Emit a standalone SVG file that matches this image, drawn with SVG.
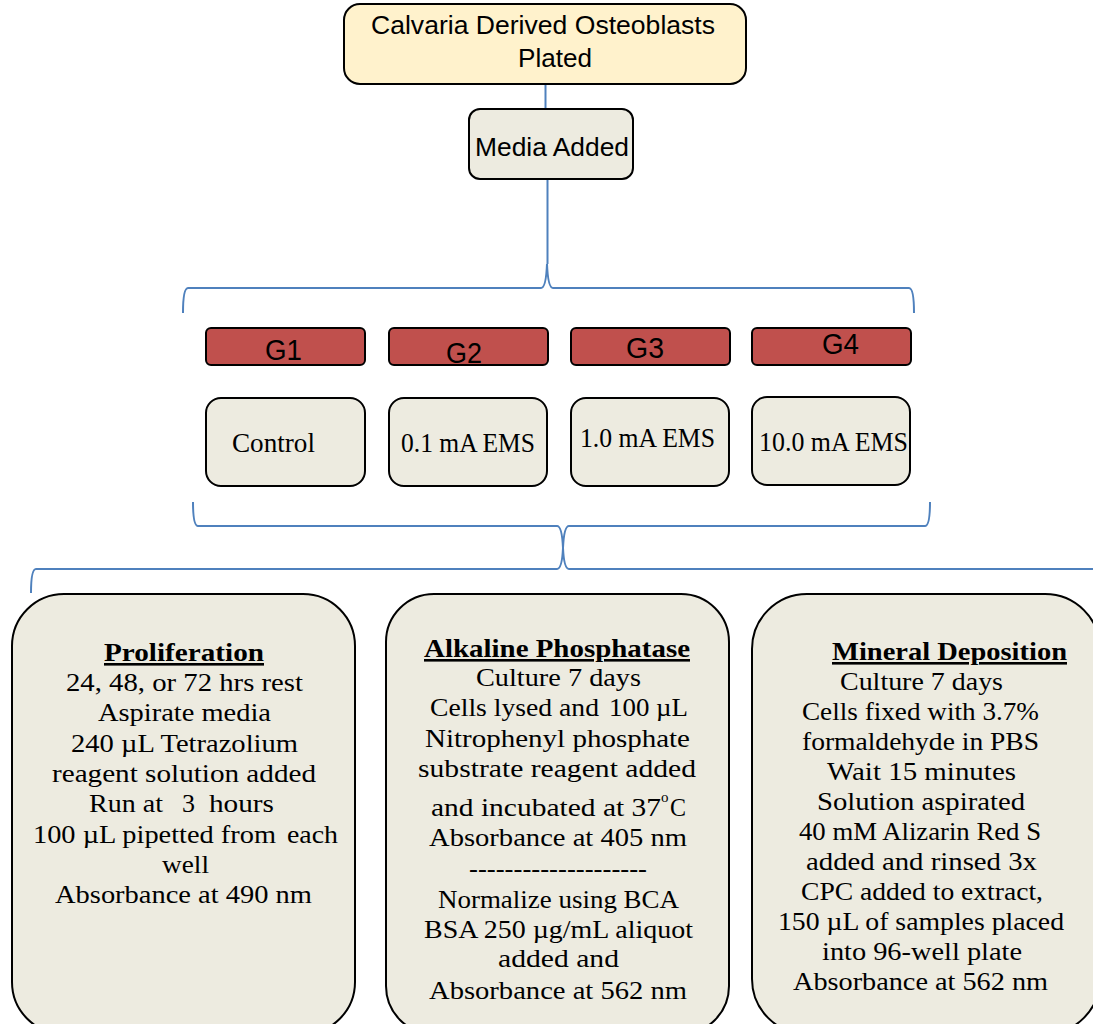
<svg xmlns="http://www.w3.org/2000/svg" width="1093" height="1024" viewBox="0 0 1093 1024">
<style>
.sans{font-family:"Liberation Sans",Arial,sans-serif;fill:#000}
.serif{font-family:"Liberation Serif","Times New Roman",serif;fill:#000}
.body{font-size:26px}
.head{font-size:26px;font-weight:bold;text-decoration:underline}
.beige{fill:#EDEBE0;stroke:#000;stroke-width:2}
.red{fill:#C0504D;stroke:#000;stroke-width:2}
.conn{fill:none;stroke:#4F81BD;stroke-width:2}
</style>
<rect width="1093" height="1024" fill="#fff"/>
<g id="connectors">
<line class="conn" x1="545.5" y1="84" x2="545.5" y2="110"/>
<line class="conn" x1="547.5" y1="179" x2="547.5" y2="264"/>
<path class="conn" d="M183,313 Q183,288 188,288 L541,288 Q546,288 547,264 Q548,288 553,288 L909,288 Q914,288 914,313"/>
<path class="conn" d="M193,502 Q193,526 198,526 L557,526 Q562,526 563,548 Q564,526 569,526 L925,526 Q930,526 930,502"/>
<path class="conn" d="M31,593 Q31,569 36,569 L557,569 Q562,569 563,548 Q564,569 569,569 L1095,569"/>
</g>
<g id="plated">
<rect x="344" y="4" width="402" height="80" rx="16" fill="#FFF2CC" stroke="#000" stroke-width="2"/>
<text class="sans" font-size="26.5" x="371" y="34" textLength="344" lengthAdjust="spacingAndGlyphs">Calvaria Derived Osteoblasts</text>
<text class="sans" font-size="26.5" x="518" y="67" textLength="74" lengthAdjust="spacingAndGlyphs">Plated</text>
</g>
<g id="media">
<rect class="beige" x="469" y="109" width="164" height="70" rx="11"/>
<text class="sans" font-size="26" x="475" y="156" textLength="154" lengthAdjust="spacingAndGlyphs">Media Added</text>
</g>
<g id="g1">
<rect class="red" x="206" y="328" width="159" height="37" rx="5"/>
<text class="sans" font-size="29" x="265" y="360" textLength="37" lengthAdjust="spacingAndGlyphs">G1</text>
</g>
<g id="g2">
<rect class="red" x="389" y="328" width="159" height="37" rx="5"/>
<text class="sans" font-size="29" x="446" y="363" textLength="36" lengthAdjust="spacingAndGlyphs">G2</text>
</g>
<g id="g3">
<rect class="red" x="571" y="328" width="159" height="37" rx="5"/>
<text class="sans" font-size="29" x="626" y="358" textLength="38" lengthAdjust="spacingAndGlyphs">G3</text>
</g>
<g id="g4">
<rect class="red" x="752" y="328" width="159" height="37" rx="5"/>
<text class="sans" font-size="29" x="822" y="354" textLength="37" lengthAdjust="spacingAndGlyphs">G4</text>
</g>
<g id="control">
<rect class="beige" x="206" y="398" width="159" height="88" rx="15"/>
<text class="serif" font-size="28" x="232" y="452" textLength="83" lengthAdjust="spacingAndGlyphs">Control</text>
</g>
<g id="ems01">
<rect class="beige" x="389" y="398" width="158" height="88" rx="15"/>
<text class="serif" font-size="28" x="401" y="452" textLength="134" lengthAdjust="spacingAndGlyphs">0.1 mA EMS</text>
</g>
<g id="ems10">
<rect class="beige" x="571" y="398" width="158" height="88" rx="15"/>
<text class="serif" font-size="28" x="580" y="447" textLength="135" lengthAdjust="spacingAndGlyphs">1.0 mA EMS</text>
</g>
<g id="ems100">
<rect class="beige" x="752" y="397" width="158" height="88" rx="15"/>
<text class="serif" font-size="28" x="759" y="451" textLength="149" lengthAdjust="spacingAndGlyphs">10.0 mA EMS</text>
</g>
<g id="proliferation">
<rect class="beige" x="12" y="594" width="343" height="440" rx="52"/>
<text class="serif head" x="104" y="661" textLength="160" lengthAdjust="spacingAndGlyphs">Proliferation</text>
<text class="serif body" x="66" y="691" textLength="237" lengthAdjust="spacingAndGlyphs">24, 48, or 72 hrs rest</text>
<text class="serif body" x="98" y="721" textLength="173" lengthAdjust="spacingAndGlyphs">Aspirate media</text>
<text class="serif body" x="71" y="752" textLength="227" lengthAdjust="spacingAndGlyphs">240 µL Tetrazolium</text>
<text class="serif body" x="52" y="782" textLength="264" lengthAdjust="spacingAndGlyphs">reagent solution added</text>
<text class="serif body" x="89" y="812" textLength="74" lengthAdjust="spacingAndGlyphs">Run at</text>
<text class="serif body" x="182" y="812">3</text>
<text class="serif body" x="209" y="812" textLength="65" lengthAdjust="spacingAndGlyphs">hours</text>
<text class="serif body" x="33" y="843" textLength="243" lengthAdjust="spacingAndGlyphs">100 µL pipetted from</text>
<text class="serif body" x="287" y="843" textLength="51" lengthAdjust="spacingAndGlyphs">each</text>
<text class="serif body" x="162" y="873" textLength="47" lengthAdjust="spacingAndGlyphs">well</text>
<text class="serif body" x="55" y="903" textLength="257" lengthAdjust="spacingAndGlyphs">Absorbance at 490 nm</text>
</g>
<g id="alkaline">
<rect class="beige" x="386" y="594" width="343" height="440" rx="48"/>
<text class="serif head" x="424" y="657" textLength="266" lengthAdjust="spacingAndGlyphs">Alkaline Phosphatase</text>
<text class="serif body" x="476" y="686" textLength="165" lengthAdjust="spacingAndGlyphs">Culture 7 days</text>
<text class="serif body" x="430" y="716" textLength="169" lengthAdjust="spacingAndGlyphs">Cells lysed and</text>
<text class="serif body" x="609" y="716" textLength="79" lengthAdjust="spacingAndGlyphs">100 µL</text>
<text class="serif body" x="425" y="747" textLength="265" lengthAdjust="spacingAndGlyphs">Nitrophenyl phosphate</text>
<text class="serif body" x="418" y="777" textLength="278" lengthAdjust="spacingAndGlyphs">substrate reagent added</text>
<text class="serif body" x="431" y="816" textLength="230" lengthAdjust="spacingAndGlyphs">and incubated at 37</text>
<text class="serif" font-size="15" x="661" y="802">o</text>
<text class="serif body" x="670" y="816" textLength="16" lengthAdjust="spacingAndGlyphs">C</text>
<text class="serif body" x="429" y="846" textLength="258" lengthAdjust="spacingAndGlyphs">Absorbance at 405 nm</text>
<text class="serif body" x="469" y="877" textLength="178" lengthAdjust="spacingAndGlyphs">--------------------</text>
<text class="serif body" x="438" y="908" textLength="241" lengthAdjust="spacingAndGlyphs">Normalize using BCA</text>
<text class="serif body" x="424" y="938" textLength="269" lengthAdjust="spacingAndGlyphs">BSA 250 µg/mL aliquot</text>
<text class="serif body" x="498" y="967" textLength="121" lengthAdjust="spacingAndGlyphs">added and</text>
<text class="serif body" x="429" y="999" textLength="258" lengthAdjust="spacingAndGlyphs">Absorbance at 562 nm</text>
</g>
<g id="mineral">
<rect class="beige" x="752" y="594" width="348" height="440" rx="55"/>
<text class="serif head" x="832" y="660" textLength="235" lengthAdjust="spacingAndGlyphs">Mineral Deposition</text>
<text class="serif body" x="840" y="690" textLength="163" lengthAdjust="spacingAndGlyphs">Culture 7 days</text>
<text class="serif body" x="802" y="720" textLength="237" lengthAdjust="spacingAndGlyphs">Cells fixed with 3.7%</text>
<text class="serif body" x="802" y="750" textLength="237" lengthAdjust="spacingAndGlyphs">formaldehyde in PBS</text>
<text class="serif body" x="827" y="780" textLength="189" lengthAdjust="spacingAndGlyphs">Wait 15 minutes</text>
<text class="serif body" x="817" y="810" textLength="208" lengthAdjust="spacingAndGlyphs">Solution aspirated</text>
<text class="serif body" x="799" y="840" textLength="242" lengthAdjust="spacingAndGlyphs">40 mM Alizarin Red S</text>
<text class="serif body" x="806" y="870" textLength="231" lengthAdjust="spacingAndGlyphs">added and rinsed 3x</text>
<text class="serif body" x="801" y="900" textLength="242" lengthAdjust="spacingAndGlyphs">CPC added to extract,</text>
<text class="serif body" x="778" y="930" textLength="286" lengthAdjust="spacingAndGlyphs">150 µL of samples placed</text>
<text class="serif body" x="822" y="960" textLength="200" lengthAdjust="spacingAndGlyphs">into 96-well plate</text>
<text class="serif body" x="793" y="990" textLength="255" lengthAdjust="spacingAndGlyphs">Absorbance at 562 nm</text>
</g>
</svg>
